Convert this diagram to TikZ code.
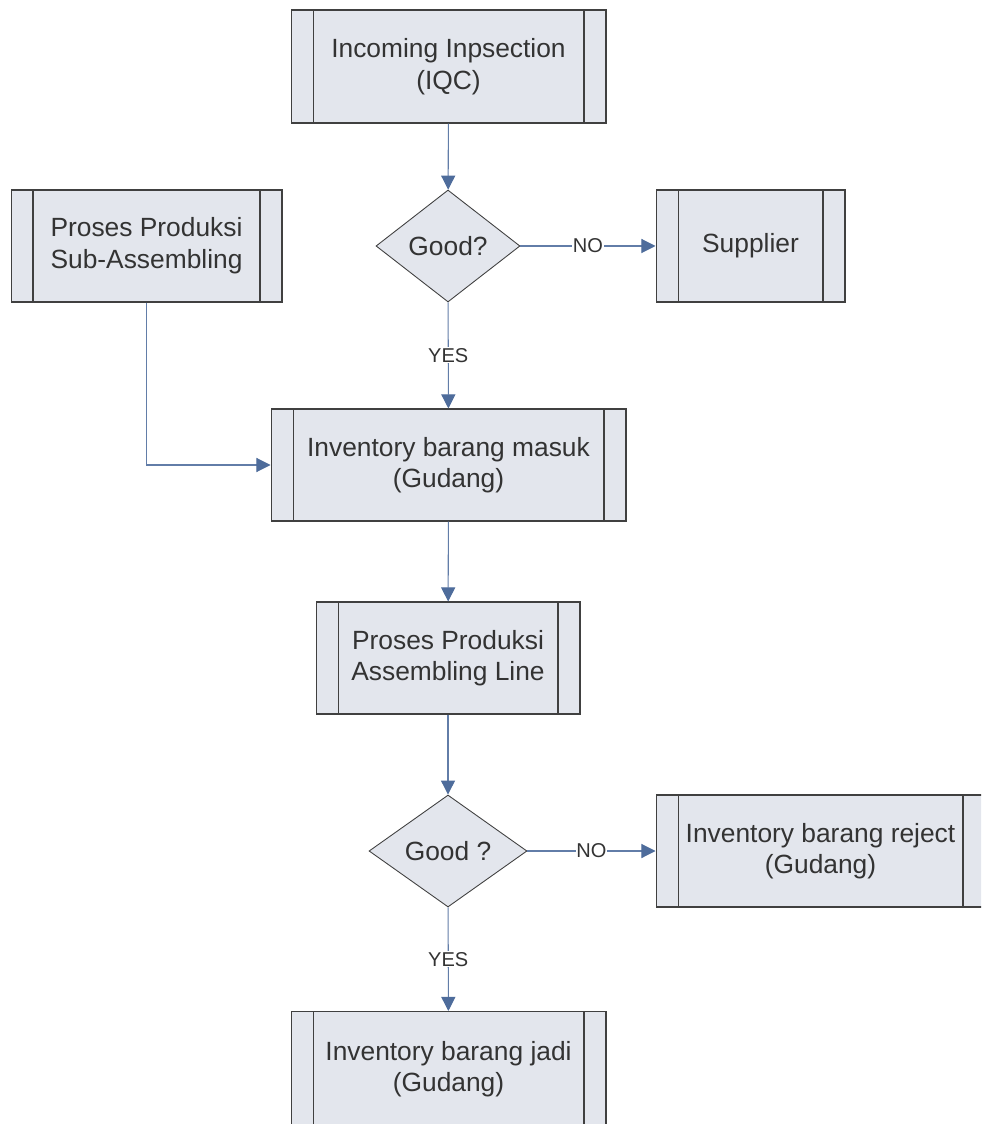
\documentclass[tikz,border=0pt]{standalone}
\usepackage{fontspec}
\setmainfont{Liberation Sans}
\usetikzlibrary{arrows.meta,shapes.geometric}

\definecolor{boxfill}{RGB}{227,230,237}
\definecolor{boxline}{RGB}{64,64,64}
\definecolor{flowline}{RGB}{98,125,168}
\definecolor{tipcol}{RGB}{78,108,155}
\definecolor{txt}{RGB}{51,51,51}

\tikzset{
  proc/.style={draw=boxline, fill=boxfill, text=txt, align=center,
    font=\fontsize{15}{18}\selectfont, inner sep=0pt, line width=0.6pt,
    path picture={
      \draw[boxline, line width=0.6pt]
        ([xshift=0.44cm]path picture bounding box.north west) --
        ([xshift=0.44cm]path picture bounding box.south west);
      \draw[boxline, line width=0.6pt]
        ([xshift=-0.44cm]path picture bounding box.north east) --
        ([xshift=-0.44cm]path picture bounding box.south east);}},
  decision/.style={diamond, draw=boxline, fill=boxfill, text=txt,
    font=\fontsize{15}{18}\selectfont, inner sep=0pt, aspect=1.3,
    line width=0.5pt},
  flow/.style={draw=flowline, line width=0.6pt,
    -{Triangle[length=8pt,width=8pt,fill=tipcol,color=tipcol]}},
  lbl/.style={fill=white, text=txt, inner sep=0.5pt,
    font=\fontsize{11.4}{13}\selectfont}
}

\begin{document}
\begin{tikzpicture}[x=0.02cm, y=-0.02cm]
\path[use as bounding box] (0,0) rectangle (981,1124);
\clip (0,0) rectangle (981,1124);

% boxes
\node[proc, minimum width=6.3cm, minimum height=2.26cm] (iqc) at (448.5,66.5)
  {Incoming Inpsection\\(IQC)};
\node[decision, minimum width=2.88cm, minimum height=2.24cm] (good1) at (448,246) {Good?};
\node[proc, minimum width=3.78cm, minimum height=2.24cm] (supp) at (750.5,246) {Supplier};
\node[proc, minimum width=5.42cm, minimum height=2.24cm] (sub) at (146.5,246)
  {Proses Produksi\\Sub-Assembling};
\node[proc, minimum width=7.1cm, minimum height=2.24cm] (masuk) at (448.5,465)
  {Inventory barang masuk\\(Gudang)};
\node[proc, minimum width=5.28cm, minimum height=2.24cm] (asm) at (448,658)
  {Proses Produksi\\Assembling Line};
\node[decision, minimum width=3.16cm, minimum height=2.24cm] (good2) at (448,851) {Good ?};
\node[proc, minimum width=6.58cm, minimum height=2.24cm] (reject) at (820.5,851)
  {Inventory barang reject\\(Gudang)};
\node[proc, minimum width=6.3cm, minimum height=2.3cm] (jadi) at (448.5,1069)
  {Inventory barang jadi\\(Gudang)};

% connectors
\draw[flow] (iqc) -- (good1);
\draw[flow] (good1) -- node[lbl, pos=0.5] {NO} (supp);
\draw[flow] (good1) -- node[lbl, pos=0.5] {YES} (masuk);
\draw[flow] (sub.south) |- (masuk.west);
\draw[flow] (masuk) -- (asm);
\draw[flow] (asm) -- (good2);
\draw[flow] (good2) -- node[lbl, pos=0.5] {NO} (reject);
\draw[flow] (good2) -- node[lbl, pos=0.5] {YES} (jadi);

\end{tikzpicture}
\end{document}
